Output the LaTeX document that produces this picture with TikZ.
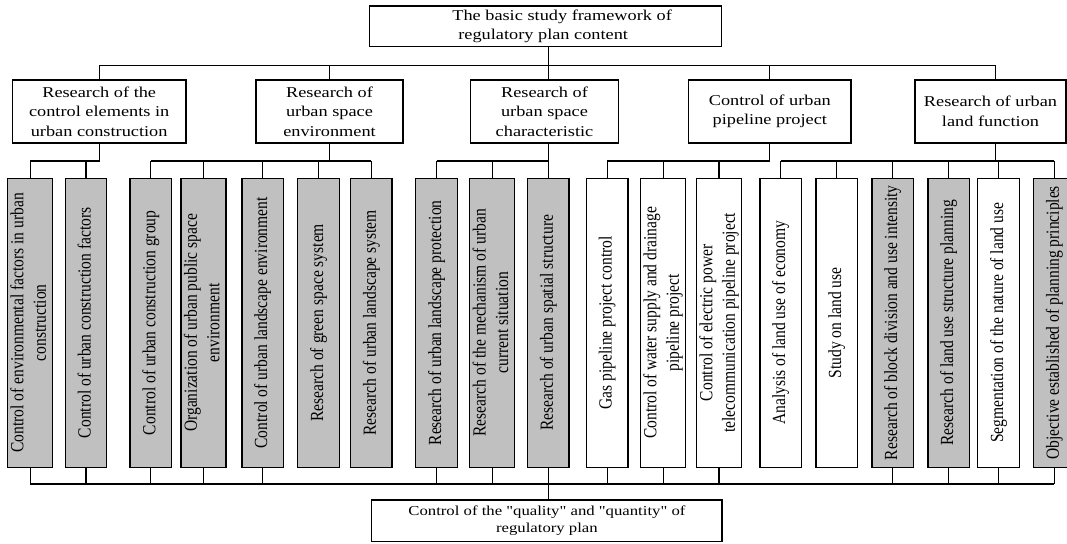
\documentclass[tikz,border=0pt]{standalone}
\usepackage{fontspec}
\setmainfont{Liberation Serif}
% wide face for the horizontal labels, narrow face for the rotated ones
\newfontfamily\widefont[FakeStretch=1.22]{Liberation Serif}
\newfontfamily\narrowfont[FakeStretch=0.84]{Liberation Serif}
\definecolor{boxgray}{HTML}{C0C0C0}

\newcommand{\vtext}[1]{\rotatebox{90}{\narrowfont\fontsize{18.5}{22.5}\selectfont\begin{tabular}{@{}c@{}}#1\end{tabular}}}

\tikzset{
  frame/.style={draw, line width=1.2pt, inner sep=0pt},
  headbox/.style={frame, fill=white, align=center, font=\widefont\fontsize{15}{19.6}\selectfont},
  footbox/.style={frame, fill=white, align=center, font=\widefont\fontsize{13.7}{17}\selectfont},
  colbox/.style={frame, minimum width=41.5pt, minimum height=289pt},
  shaded/.style={colbox, fill=boxgray},
  plain/.style={colbox, fill=white},
  link/.style={line width=1.1pt},
}

\begin{document}
\begin{tikzpicture}[x=1pt, y=-1pt]
\useasboundingbox (0,0) rectangle (1067,543);

% bus levels
\coordinate (bus1) at (0,65.5);
\coordinate (bus2) at (0,161);
\coordinate (bus3) at (0,484);
% drop point of the land-function branch
\coordinate (drop5) at (995.5,0);

% root
\node[headbox, minimum width=352pt, minimum height=40.5pt] (top) at (545.6,26.2)
  {\hspace*{33pt}\begin{tabular}{@{}l@{}}The basic study framework of\\\hspace*{6pt}regulatory plan content\end{tabular}};

% second level
\node[headbox, minimum width=173.6pt, minimum height=63pt] (B1) at (99.2,111.5)
  {Research of the\\control elements in\\urban construction};
\node[headbox, minimum width=147pt, minimum height=63pt] (B2) at (329.5,111.5)
  {Research of\\urban space\\environment};
\node[headbox, minimum width=148pt, minimum height=63pt] (B3) at (544.5,111.5)
  {Research of\\urban space\\characteristic};
\node[headbox, minimum width=162.4pt, minimum height=63pt] (B4) at (769.8,111.5)
  {Control of urban\\pipeline project};
\node[headbox, minimum width=151pt, minimum height=63pt] (B5) at (990.5,111.5)
  {Research of urban\\land function};

% column items
\node[shaded] (V1)  at (30.2,322.8)  {\vtext{Control of environmental factors in urban\\construction}};
\node[shaded] (V2)  at (86,322.8)    {\vtext{Control of urban construction factors}};
\node[shaded] (V3)  at (150.8,322.8) {\vtext{Control of urban construction group}};
\node[shaded] (V4)  at (203.5,322.8) {\vtext{Organization of urban public space\\environment}};
\node[shaded] (V5)  at (262.7,322.8) {\vtext{Control of urban landscape environment}};
\node[shaded] (V6)  at (318.5,322.8) {\vtext{Research of green space system}};
\node[shaded] (V7)  at (371.3,322.8) {\vtext{Research of urban landscape system}};
\node[shaded] (V8)  at (436.5,322.8) {\vtext{Research of urban landscape protection}};
\node[shaded] (V9)  at (492.3,322.8) {\vtext{Research of the mechanism of urban\\current situation}};
\node[shaded] (V10) at (548.3,322.8) {\vtext{Research of urban spatial structure}};
\node[plain]  (V11) at (607.2,322.8) {\vtext{Gas pipeline project control}};
\node[plain]  (V12) at (663.2,322.8) {\vtext{Control of water supply and drainage\\pipeline project}};
\node[plain]  (V13) at (719,322.8)   {\vtext{Control of electric power\\telecommunication pipeline project}};
\node[plain]  (V14) at (780.7,322.8) {\vtext{Analysis of land use of economy}};
\node[plain]  (V15) at (836.7,322.8) {\vtext{Study on land use}};
\node[shaded] (V16) at (892.7,322.8) {\vtext{Research of block division and use intensity}};
\node[shaded] (V17) at (948.7,322.8) {\vtext{Research of land use structure planning}};
\node[plain]  (V18) at (998.5,322.8) {\vtext{Segmentation of the nature of land use}};
\node[shaded] (V19) at (1054.3,322.8){\vtext{Objective established of planning principles}};

% result
\node[footbox, minimum width=350.3pt, minimum height=41.7pt] (bottom) at (546.9,520.9)
  {Control of the "quality" and "quantity" of\\regulatory plan};

% root to second level
\draw[link] (top.south -| V10) -- (B3.north -| V10);
\draw[link] (B1.north) -- (B1.north |- bus1) -- (drop5 |- bus1) -- (B5.north -| drop5);
\draw[link] (B2.north) -- (B2.north |- bus1);
\draw[link] (B4.north) -- (B4.north |- bus1);

% second level to columns
\draw[link] (B1.south) -- (B1.south |- bus2) -- (V1.north |- bus2);
\foreach \v in {V1,V2} \draw[link] (\v.north) -- (\v.north |- bus2);

\draw[link] (B2.south) -- (B2.south |- bus2);
\draw[link] (V3.north |- bus2) -- (V7.north |- bus2);
\foreach \v in {V3,V4,V5,V6,V7} \draw[link] (\v.north) -- (\v.north |- bus2);

\draw[link] (B3.south -| V10) -- (V10.north);
\draw[link] (V8.north |- bus2) -- (V10.north |- bus2);
\foreach \v in {V8,V9} \draw[link] (\v.north) -- (\v.north |- bus2);

\draw[link] (B4.south) -- (B4.south |- bus2) -- (V11.north |- bus2);
\foreach \v in {V11,V12,V13} \draw[link] (\v.north) -- (\v.north |- bus2);

\draw[link] (B5.south -| drop5) -- (drop5 |- bus2);
\draw[link] (V14.north |- bus2) -- (V19.north |- bus2);
\foreach \v in {V14,V15,V16,V17,V18,V19} \draw[link] (\v.north) -- (\v.north |- bus2);

% columns to result
\draw[link] (V1.south |- bus3) -- (V19.south |- bus3);
\foreach \v in {V1,V2,V3,V4,V5,V8,V9,V10,V11,V12,V13,V16,V17,V18,V19}
  \draw[link] (\v.south) -- (\v.south |- bus3);
\draw[link] (V10.south |- bus3) -- (bottom.north -| V10);
\end{tikzpicture}
\end{document}
